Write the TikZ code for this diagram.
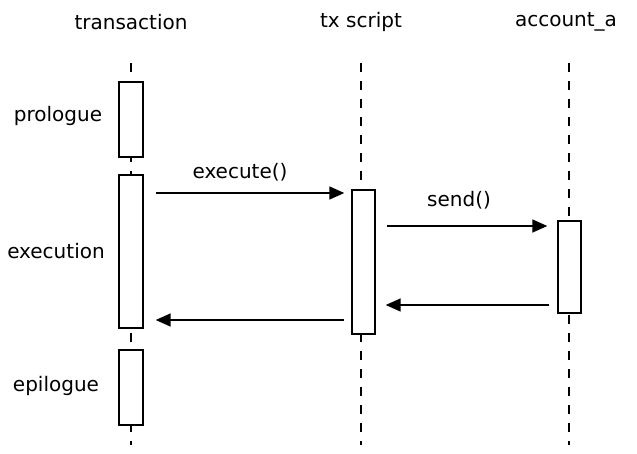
\documentclass[tikz,border=0pt]{standalone}
\usepackage{fontspec}
\setmainfont{DejaVu Sans}
\usetikzlibrary{arrows.meta, positioning}

\begin{document}
\begin{tikzpicture}[x=1pt, y=-1pt,
    lifeline/.style={draw=black, line width=1.2pt, dash pattern=on 9pt off 9pt},
    actbox/.style={rectangle, draw=black, fill=white, line width=1.4pt,
                   minimum width=24pt, inner sep=0pt},
    msg/.style={-{Triangle[length=15pt,width=13pt]}, line width=1.6pt},
    head/.style={font=\fontsize{20}{22}\selectfont},
    phase/.style={font=\fontsize{20}{22}\selectfont}
]
\useasboundingbox (0,0) rectangle (637,453);

\node[head] (TX)  at (131,22) {transaction};
\node[head] (SC)  at (361,22) {tx script};
\node[head] (ACC) at (566,22) {account\_a};

\coordinate (txtop) at (131,63);  \coordinate (txbot) at (131,445);
\coordinate (sctop) at (361,63);  \coordinate (scbot) at (361,445);
\coordinate (acctop) at (569,63); \coordinate (accbot) at (569,445);
\draw[lifeline] (txtop) -- (txbot);
\draw[lifeline] (sctop) -- (scbot);
\draw[lifeline] (acctop) -- (accbot);

%% activation boxes
\node[actbox, minimum height=75pt]  (pro)  at (131,119.5) {};
\node[actbox, minimum height=153pt] (exe)  at (131,251.5) {};
\node[actbox, minimum height=75pt]  (epi)  at (131,387.5) {};
\node[actbox, minimum width=23pt, minimum height=144pt] (scbox)  at (363.5,262) {};
\node[actbox, minimum width=23pt, minimum height=92pt]  (accbox) at (569.5,267) {};

%% phases
\node[phase] (lpro) at (58,116) {prologue};
\node[phase] (lexe) at (56,251) {execution};
\node[phase] (lepi) at (56,386) {epilogue};

%% calls
\draw[msg, shorten <=12pt, shorten >=7pt] (exe.east |- 0,193) -- (scbox.west |- 0,193);
\node[phase] (lexec) at (240,172) {execute()};
\draw[msg, shorten <=11pt, shorten >=10pt] (scbox.east |- 0,226) -- (accbox.west |- 0,226);
\node[phase] (lsend) at (459,200) {send()};

%% returns
\draw[msg, shorten <=8pt, shorten >=10pt] (accbox.west |- 0,305) -- (scbox.east |- 0,305);
\draw[msg, shorten <=7pt, shorten >=12pt] (scbox.west |- 0,320) -- (exe.east |- 0,320);

\end{tikzpicture}
\end{document}
